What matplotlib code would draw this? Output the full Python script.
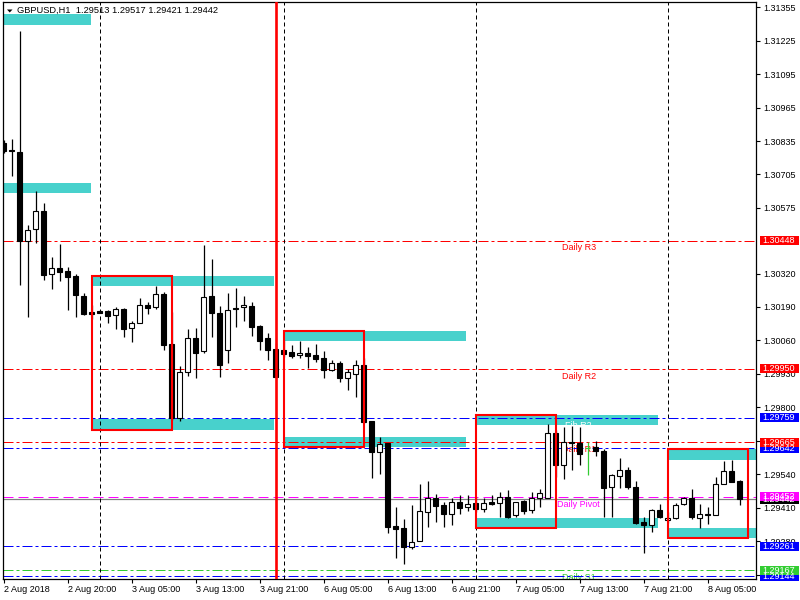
import matplotlib
matplotlib.use("Agg")
import matplotlib.pyplot as plt
import matplotlib.transforms as mtransforms
from matplotlib.patches import Rectangle, Polygon

plt.rcParams['font.family'] = ['Liberation Sans', 'DejaVu Sans']

# === GBPUSD H1 bars ===
opens = [1.30828, 1.30802, 1.30793, 1.30446, 1.30492, 1.30563, 1.30317, 1.30341, 1.30330, 1.30311,
         1.30233, 1.30171, 1.30173, 1.30175, 1.30158, 1.30182, 1.30107, 1.30127, 1.30197, 1.30189,
         1.30239, 1.30045, 1.29758, 1.29936, 1.30068, 1.30018, 1.30232, 1.30166, 1.30022, 1.30186,
         1.30189, 1.30193, 1.30116, 1.30070, 1.30026, 1.30023, 1.30014, 1.30002, 1.30011, 1.30004,
         1.29992, 1.29946, 1.29972, 1.29915, 1.29931, 1.29963, 1.29747, 1.29628, 1.29660, 1.29339,
         1.29330, 1.29258, 1.29279, 1.29392, 1.29447, 1.29421, 1.29387, 1.29432, 1.29412, 1.29427,
         1.29404, 1.29432, 1.29427, 1.29450, 1.29380, 1.29435, 1.29400, 1.29448, 1.29448, 1.29699,
         1.29577, 1.29665, 1.29663, 1.29642, 1.29647, 1.29632, 1.29489, 1.29534, 1.29557, 1.29489,
         1.29354, 1.29344, 1.29400, 1.29362, 1.29369, 1.29424, 1.29447, 1.29370, 1.29386, 1.29382,
         1.29501, 1.29553, 1.29513]
highs = [1.30839, 1.30843, 1.31263, 1.30509, 1.30641, 1.30594, 1.30386, 1.30435, 1.30346, 1.30320,
         1.30246, 1.30197, 1.30178, 1.30178, 1.30190, 1.30186, 1.30136, 1.30225, 1.30208, 1.30272,
         1.30248, 1.30170, 1.29961, 1.30105, 1.30109, 1.30431, 1.30376, 1.30194, 1.30243, 1.30263,
         1.30232, 1.30210, 1.30119, 1.30088, 1.30051, 1.30062, 1.30042, 1.30058, 1.30035, 1.30046,
         1.30019, 1.29984, 1.29980, 1.29949, 1.29984, 1.29991, 1.29747, 1.29686, 1.29660, 1.29413,
         1.29366, 1.29421, 1.29502, 1.29514, 1.29463, 1.29431, 1.29448, 1.29459, 1.29459, 1.29453,
         1.29447, 1.29459, 1.29472, 1.29479, 1.29432, 1.29440, 1.29472, 1.29483, 1.29735, 1.29712,
         1.29724, 1.29726, 1.29723, 1.29667, 1.29669, 1.29639, 1.29541, 1.29602, 1.29567, 1.29515,
         1.29375, 1.29405, 1.29424, 1.29394, 1.29427, 1.29453, 1.29482, 1.29424, 1.29412, 1.29528,
         1.29593, 1.29595, 1.29517]
lows = [1.30789, 1.30699, 1.30276, 1.30151, 1.30440, 1.30295, 1.30260, 1.30292, 1.30178, 1.30150,
        1.30159, 1.30142, 1.30167, 1.30129, 1.30106, 1.30075, 1.30055, 1.30127, 1.30163, 1.30184,
        1.30024, 1.29750, 1.29748, 1.29923, 1.29915, 1.30013, 1.30075, 1.29919, 1.29974, 1.30114,
        1.30137, 1.30079, 1.30024, 1.29984, 1.29918, 1.29996, 1.29993, 1.29993, 1.29954, 1.29978,
        1.29915, 1.29943, 1.29900, 1.29869, 1.29841, 1.29739, 1.29527, 1.29542, 1.29313, 1.29216,
        1.29192, 1.29248, 1.29279, 1.29336, 1.29356, 1.29336, 1.29344, 1.29387, 1.29398, 1.29393,
        1.29394, 1.29421, 1.29375, 1.29369, 1.29375, 1.29386, 1.29391, 1.29414, 1.29448, 1.29528,
        1.29523, 1.29557, 1.29575, 1.29537, 1.29611, 1.29375, 1.29375, 1.29485, 1.29483, 1.29347,
        1.29233, 1.29314, 1.29372, 1.29351, 1.29366, 1.29421, 1.29366, 1.29330, 1.29347, 1.29382,
        1.29501, 1.29510, 1.29421]
closes = [1.30796, 1.30798, 1.30448, 1.30489, 1.30562, 1.30316, 1.30341, 1.30327, 1.30308, 1.30238,
          1.30164, 1.30164, 1.30168, 1.30156, 1.30181, 1.30106, 1.30127, 1.30197, 1.30187, 1.30239,
          1.30044, 1.29758, 1.29936, 1.30068, 1.30013, 1.30228, 1.30166, 1.29966, 1.30177, 1.30184,
          1.30197, 1.30114, 1.30059, 1.30024, 1.29919, 1.30007, 1.30001, 1.30011, 1.30001, 1.29989,
          1.29946, 1.29972, 1.29915, 1.29937, 1.29963, 1.29744, 1.29628, 1.29658, 1.29336, 1.29328,
          1.29256, 1.29276, 1.29397, 1.29447, 1.29418, 1.29387, 1.29432, 1.29410, 1.29424, 1.29404,
          1.29427, 1.29425, 1.29450, 1.29375, 1.29432, 1.29398, 1.29447, 1.29466, 1.29699, 1.29577,
          1.29664, 1.29660, 1.29619, 1.29642, 1.29630, 1.29485, 1.29536, 1.29557, 1.29489, 1.29352,
          1.29344, 1.29400, 1.29375, 1.29371, 1.29422, 1.29448, 1.29373, 1.29384, 1.29383, 1.29501,
          1.29553, 1.29510, 1.29442]

# time axis labels (bar index -> label)
xtick_bars = [0, 8, 16, 24, 32, 40, 48, 56, 64, 72, 80, 88]
xtick_labels = ["2 Aug 2018", "2 Aug 20:00", "3 Aug 05:00", "3 Aug 13:00", "3 Aug 21:00",
                "6 Aug 05:00", "6 Aug 13:00", "6 Aug 21:00", "7 Aug 05:00", "7 Aug 13:00",
                "7 Aug 21:00", "8 Aug 05:00"]
day_separators = [12, 35, 59, 83]
red_vline_bar = 34

# price scale labels
ytick_labels = ["1.31355", "1.31225", "1.31095", "1.30965", "1.30835", "1.30705", "1.30575",
                "1.30320", "1.30190", "1.30060", "1.29930", "1.29800", "1.29670", "1.29540",
                "1.29410", "1.29280", "1.29150"]

# pivot levels
daily_names = ["Daily R3", "Daily R2", "Daily R1", "Daily Pivot", "Daily S1"]
daily_vals = [1.30448, 1.29950, 1.29665, 1.29452, 1.29167]
daily_colors = ["#FF0000", "#FF0000", "#FF0000", "#FF00FF", "#32CD32"]
fib_names = ["Fib R2", "Fib R1", "Fib S1", "Fib S2"]
fib_vals = [1.29759, 1.29642, 1.29261, 1.29144]
bid = 1.29442

# supply / demand zones (cyan) and daily range boxes (red)
zone_x0 = [-0.1, -0.1, 11, 11, 35, 35, 59, 59, 83, 83]
zone_x1 = [10.95, 10.95, 33.85, 33.85, 57.85, 57.85, 81.85, 81.85, 94.1, 94.1]
zone_top = [1.31329, 1.30672, 1.30311, 1.29755, 1.30097, 1.29685, 1.29770, 1.29370, 1.29638, 1.29331]
zone_bot = [1.31286, 1.30633, 1.30272, 1.29712, 1.30058, 1.29646, 1.29731, 1.29331, 1.29595, 1.29292]
box_x0 = [11, 35, 59, 83]
box_x1 = [21, 45, 69, 93]
box_top = [1.30311, 1.30097, 1.29770, 1.29638]
box_bot = [1.29712, 1.29646, 1.29331, 1.29292]

FS = 6.5
CYAN = "#48D1CC"

fig = plt.figure(figsize=(8, 6), dpi=100)
ax = fig.add_axes([2.7 / 800, 1 - 578.5 / 600, 753.3 / 800, 576.2 / 600])
ax.set_xlim(-0.1, 94.06)
ax.set_ylim(1.29135, 1.31374)

# zones
for x0, x1, t, b in zip(zone_x0, zone_x1, zone_top, zone_bot):
    ax.add_patch(Rectangle((x0, b), x1 - x0, t - b, facecolor=CYAN, edgecolor="none", zorder=1))

# horizontal levels
dashdot = (0, (10, 3, 3, 3))
for name, v, c in zip(daily_names, daily_vals, daily_colors):
    ls = (0, (10, 5)) if name == "Daily Pivot" else dashdot
    ax.axhline(v, color=c, lw=0.72, ls=ls, zorder=2)
    ax.annotate(name, xy=(71.9, v), xytext=(0, -2), textcoords="offset points",
                ha="center", va="top", color=c, fontsize=FS, zorder=2, annotation_clip=True,
                clip_on=True)
for name, v in zip(fib_names, fib_vals):
    ax.axhline(v, color="#0000FF", lw=0.72, ls=dashdot, zorder=2)
    ax.annotate(name, xy=(71.9, v), xytext=(0, -2), textcoords="offset points",
                ha="center", va="top", color="white", fontsize=FS, zorder=2, clip_on=True)
ax.axhline(bid, color="#808080", lw=0.9, zorder=2)

# separators
for s in day_separators:
    ax.axvline(s, color="black", lw=0.72, ls=(0, (4, 3)), zorder=2)

# candles
xs = list(range(len(opens)))
for i, o, h, l, c in zip(xs, opens, highs, lows, closes):
    if c > o:
        fc, ec = "white", "black"
    elif c < o:
        fc, ec = "black", "black"
    else:
        fc, ec = "#32CD32", "#32CD32"
    ax.vlines(i, l, h, color=ec, lw=0.9, zorder=4)
    ax.bar(i, abs(c - o), bottom=min(o, c), width=0.6, facecolor=fc, edgecolor=ec,
           lw=0.8, zorder=5)

# red boxes and red vertical line
for x0, x1, t, b in zip(box_x0, box_x1, box_top, box_bot):
    ax.add_patch(Rectangle((x0, b), x1 - x0, t - b, facecolor="none", edgecolor="#FF0000",
                           lw=1.5, zorder=6))
ax.axvline(red_vline_bar, color="#FF0000", lw=1.9, zorder=6)

# axes styling
for sp in ax.spines.values():
    sp.set_linewidth(0.9)
ax.yaxis.tick_right()
ax.set_yticks([float(t) for t in ytick_labels])
ax.set_yticklabels(ytick_labels)
ax.set_xticks(xtick_bars)
ax.set_xticklabels(xtick_labels)
ax.tick_params(axis="y", length=3, width=0.8, pad=2, labelsize=FS)
ax.tick_params(axis="x", length=3, width=0.8, pad=2, labelsize=FS)
for lab in ax.get_xticklabels():
    lab.set_ha("left")

# price tags on the right scale
trans = mtransforms.blended_transform_factory(ax.transAxes, ax.transData)
tag_vals = fib_vals + [bid] + daily_vals
tag_cols = ["#0000FF"] * 4 + ["black"] + daily_colors
for v, c in zip(tag_vals, tag_cols):
    ax.add_patch(Rectangle((1.0053, v - 0.000175), 0.0518, 0.00035, transform=trans,
                           facecolor=c, edgecolor="none", clip_on=False, zorder=8))
    ax.text(1.0080, v, f"{v:.5f}", transform=trans, color="white", fontsize=FS,
            ha="left", va="center", clip_on=False, zorder=9)

# header
fig.patches.append(Polygon([(7 / 800, 1 - 9.5 / 600), (12.5 / 800, 1 - 9.5 / 600),
                            (9.75 / 800, 1 - 12.5 / 600)], closed=True,
                           transform=fig.transFigure, facecolor="black", edgecolor="none"))
fig.text(17 / 800, 1 - 10.5 / 600, "GBPUSD,H1  1.29513 1.29517 1.29421 1.29442",
         fontsize=6.7, ha="left", va="center")

fig.savefig("out.png", dpi=100, facecolor="white")
